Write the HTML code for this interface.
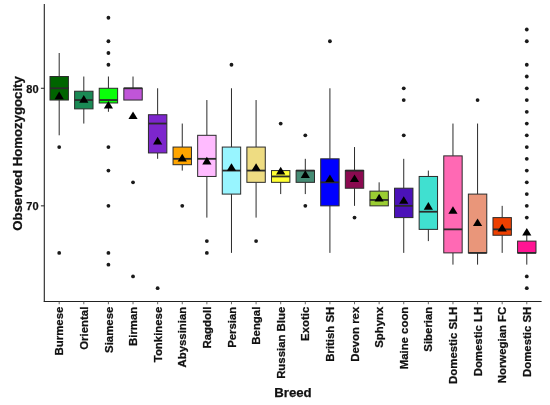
<!DOCTYPE html>
<html lang="en"><head><meta charset="utf-8"><title>Observed Homozygocity by Breed</title>
<style>
html,body{margin:0;padding:0;background:#fff;}
body{width:550px;height:405px;overflow:hidden;}
svg{display:block;}
text{font-family:"Liberation Sans",Arial,Helvetica,sans-serif;font-weight:bold;fill:#111;stroke:#111;stroke-width:0.25px;}
.xl{font-size:11.4px;}
.yl{font-size:11px;}
.ti{font-size:13.2px;}
</style></head><body>
<svg width="550" height="405" viewBox="0 0 550 405">
<rect x="0" y="0" width="550" height="405" fill="#ffffff"/>
<g>
<circle cx="59.20" cy="147.06" r="1.9" fill="#1a1a1a"/>
<circle cx="59.20" cy="252.88" r="1.9" fill="#1a1a1a"/>
<line x1="59.20" y1="53.01" x2="59.20" y2="76.52" stroke="#2b2b2b" stroke-width="1"/>
<line x1="59.20" y1="100.04" x2="59.20" y2="135.31" stroke="#2b2b2b" stroke-width="1"/>
<rect x="50.00" y="76.52" width="18.40" height="23.51" fill="#006400" stroke="#2b2b2b" stroke-width="1"/>
<line x1="50.00" y1="88.28" x2="68.40" y2="88.28" stroke="#2b2b2b" stroke-width="1.8"/>
<polygon points="59.20,91.53 63.80,99.13 54.60,99.13" fill="#000"/>
</g>
<g>
<line x1="83.81" y1="76.52" x2="83.81" y2="91.22" stroke="#2b2b2b" stroke-width="1"/>
<line x1="83.81" y1="108.85" x2="83.81" y2="123.55" stroke="#2b2b2b" stroke-width="1"/>
<rect x="74.61" y="91.22" width="18.40" height="17.64" fill="#1a8a55" stroke="#2b2b2b" stroke-width="1"/>
<line x1="74.61" y1="100.04" x2="93.01" y2="100.04" stroke="#2b2b2b" stroke-width="1.8"/>
<polygon points="83.81,95.06 88.41,102.66 79.21,102.66" fill="#000"/>
</g>
<g>
<circle cx="108.42" cy="17.74" r="1.9" fill="#1a1a1a"/>
<circle cx="108.42" cy="41.25" r="1.9" fill="#1a1a1a"/>
<circle cx="108.42" cy="53.01" r="1.9" fill="#1a1a1a"/>
<circle cx="108.42" cy="64.77" r="1.9" fill="#1a1a1a"/>
<circle cx="108.42" cy="147.06" r="1.9" fill="#1a1a1a"/>
<circle cx="108.42" cy="170.58" r="1.9" fill="#1a1a1a"/>
<circle cx="108.42" cy="205.85" r="1.9" fill="#1a1a1a"/>
<circle cx="108.42" cy="252.88" r="1.9" fill="#1a1a1a"/>
<circle cx="108.42" cy="264.63" r="1.9" fill="#1a1a1a"/>
<line x1="108.42" y1="76.52" x2="108.42" y2="88.28" stroke="#2b2b2b" stroke-width="1"/>
<line x1="108.42" y1="102.98" x2="108.42" y2="111.79" stroke="#2b2b2b" stroke-width="1"/>
<rect x="99.22" y="88.28" width="18.40" height="14.70" fill="#0aff0a" stroke="#2b2b2b" stroke-width="1"/>
<line x1="99.22" y1="100.04" x2="117.62" y2="100.04" stroke="#2b2b2b" stroke-width="1.8"/>
<polygon points="108.42,100.94 113.02,108.54 103.82,108.54" fill="#000"/>
</g>
<g>
<circle cx="133.03" cy="182.34" r="1.9" fill="#1a1a1a"/>
<circle cx="133.03" cy="276.39" r="1.9" fill="#1a1a1a"/>
<line x1="133.03" y1="76.52" x2="133.03" y2="88.28" stroke="#2b2b2b" stroke-width="1"/>
<rect x="123.83" y="88.28" width="18.40" height="11.76" fill="#c055d8" stroke="#2b2b2b" stroke-width="1"/>
<line x1="123.83" y1="88.28" x2="142.23" y2="88.28" stroke="#2b2b2b" stroke-width="1.8"/>
<polygon points="133.03,111.52 137.63,119.12 128.43,119.12" fill="#000"/>
</g>
<g>
<circle cx="157.64" cy="288.15" r="1.9" fill="#1a1a1a"/>
<line x1="157.64" y1="88.28" x2="157.64" y2="114.73" stroke="#2b2b2b" stroke-width="1"/>
<line x1="157.64" y1="152.94" x2="157.64" y2="158.82" stroke="#2b2b2b" stroke-width="1"/>
<rect x="148.44" y="114.73" width="18.40" height="38.21" fill="#7d26cd" stroke="#2b2b2b" stroke-width="1"/>
<line x1="148.44" y1="123.55" x2="166.84" y2="123.55" stroke="#2b2b2b" stroke-width="1.8"/>
<polygon points="157.64,136.80 162.24,144.40 153.04,144.40" fill="#000"/>
</g>
<g>
<circle cx="182.25" cy="205.85" r="1.9" fill="#1a1a1a"/>
<line x1="182.25" y1="123.55" x2="182.25" y2="147.06" stroke="#2b2b2b" stroke-width="1"/>
<line x1="182.25" y1="164.70" x2="182.25" y2="170.58" stroke="#2b2b2b" stroke-width="1"/>
<rect x="173.05" y="147.06" width="18.40" height="17.64" fill="#ffa500" stroke="#2b2b2b" stroke-width="1"/>
<line x1="173.05" y1="158.82" x2="191.45" y2="158.82" stroke="#2b2b2b" stroke-width="1.8"/>
<polygon points="182.25,153.85 186.85,161.45 177.65,161.45" fill="#000"/>
</g>
<g>
<circle cx="206.86" cy="241.12" r="1.9" fill="#1a1a1a"/>
<circle cx="206.86" cy="252.88" r="1.9" fill="#1a1a1a"/>
<line x1="206.86" y1="100.04" x2="206.86" y2="135.31" stroke="#2b2b2b" stroke-width="1"/>
<line x1="206.86" y1="176.46" x2="206.86" y2="217.61" stroke="#2b2b2b" stroke-width="1"/>
<rect x="197.66" y="135.31" width="18.40" height="41.15" fill="#ffbbff" stroke="#2b2b2b" stroke-width="1"/>
<line x1="197.66" y1="158.82" x2="216.06" y2="158.82" stroke="#2b2b2b" stroke-width="1.8"/>
<polygon points="206.86,156.79 211.46,164.39 202.26,164.39" fill="#000"/>
</g>
<g>
<circle cx="231.47" cy="64.77" r="1.9" fill="#1a1a1a"/>
<line x1="231.47" y1="88.28" x2="231.47" y2="147.06" stroke="#2b2b2b" stroke-width="1"/>
<line x1="231.47" y1="194.09" x2="231.47" y2="252.88" stroke="#2b2b2b" stroke-width="1"/>
<rect x="222.27" y="147.06" width="18.40" height="47.03" fill="#98f5ff" stroke="#2b2b2b" stroke-width="1"/>
<line x1="222.27" y1="170.58" x2="240.67" y2="170.58" stroke="#2b2b2b" stroke-width="1.8"/>
<polygon points="231.47,163.25 236.07,170.85 226.87,170.85" fill="#000"/>
</g>
<g>
<circle cx="256.08" cy="241.12" r="1.9" fill="#1a1a1a"/>
<line x1="256.08" y1="100.04" x2="256.08" y2="147.06" stroke="#2b2b2b" stroke-width="1"/>
<line x1="256.08" y1="182.34" x2="256.08" y2="217.61" stroke="#2b2b2b" stroke-width="1"/>
<rect x="246.88" y="147.06" width="18.40" height="35.27" fill="#eedc82" stroke="#2b2b2b" stroke-width="1"/>
<line x1="246.88" y1="170.58" x2="265.28" y2="170.58" stroke="#2b2b2b" stroke-width="1.8"/>
<polygon points="256.08,163.25 260.68,170.85 251.48,170.85" fill="#000"/>
</g>
<g>
<circle cx="280.69" cy="123.55" r="1.9" fill="#1a1a1a"/>
<line x1="280.69" y1="182.34" x2="280.69" y2="194.09" stroke="#2b2b2b" stroke-width="1"/>
<rect x="271.49" y="170.58" width="18.40" height="11.76" fill="#ffff33" stroke="#2b2b2b" stroke-width="1"/>
<line x1="271.49" y1="176.46" x2="289.89" y2="176.46" stroke="#2b2b2b" stroke-width="1.8"/>
<polygon points="280.69,166.78 285.29,174.38 276.09,174.38" fill="#000"/>
</g>
<g>
<circle cx="305.30" cy="135.31" r="1.9" fill="#1a1a1a"/>
<circle cx="305.30" cy="205.85" r="1.9" fill="#1a1a1a"/>
<line x1="305.30" y1="158.82" x2="305.30" y2="170.58" stroke="#2b2b2b" stroke-width="1"/>
<line x1="305.30" y1="182.34" x2="305.30" y2="194.09" stroke="#2b2b2b" stroke-width="1"/>
<rect x="296.10" y="170.58" width="18.40" height="11.76" fill="#458b74" stroke="#2b2b2b" stroke-width="1"/>
<line x1="296.10" y1="170.58" x2="314.50" y2="170.58" stroke="#2b2b2b" stroke-width="1.8"/>
<polygon points="305.30,170.31 309.90,177.91 300.70,177.91" fill="#000"/>
</g>
<g>
<circle cx="329.91" cy="41.25" r="1.9" fill="#1a1a1a"/>
<line x1="329.91" y1="88.28" x2="329.91" y2="158.82" stroke="#2b2b2b" stroke-width="1"/>
<line x1="329.91" y1="205.85" x2="329.91" y2="252.88" stroke="#2b2b2b" stroke-width="1"/>
<rect x="320.71" y="158.82" width="18.40" height="47.03" fill="#0000ff" stroke="#2b2b2b" stroke-width="1"/>
<line x1="320.71" y1="182.34" x2="339.11" y2="182.34" stroke="#2b2b2b" stroke-width="1.8"/>
<polygon points="329.91,174.42 334.51,182.02 325.31,182.02" fill="#000"/>
</g>
<g>
<circle cx="354.52" cy="217.61" r="1.9" fill="#1a1a1a"/>
<line x1="354.52" y1="147.06" x2="354.52" y2="170.58" stroke="#2b2b2b" stroke-width="1"/>
<line x1="354.52" y1="188.21" x2="354.52" y2="205.85" stroke="#2b2b2b" stroke-width="1"/>
<rect x="345.32" y="170.58" width="18.40" height="17.64" fill="#8b0a50" stroke="#2b2b2b" stroke-width="1"/>
<line x1="345.32" y1="170.58" x2="363.72" y2="170.58" stroke="#2b2b2b" stroke-width="1.8"/>
<polygon points="354.52,174.42 359.12,182.02 349.92,182.02" fill="#000"/>
</g>
<g>
<line x1="379.13" y1="182.34" x2="379.13" y2="191.15" stroke="#2b2b2b" stroke-width="1"/>
<rect x="369.93" y="191.15" width="18.40" height="14.70" fill="#9acd32" stroke="#2b2b2b" stroke-width="1"/>
<line x1="369.93" y1="199.97" x2="388.33" y2="199.97" stroke="#2b2b2b" stroke-width="1.8"/>
<polygon points="379.13,193.82 383.73,201.42 374.53,201.42" fill="#000"/>
</g>
<g>
<circle cx="403.74" cy="88.28" r="1.9" fill="#1a1a1a"/>
<circle cx="403.74" cy="100.04" r="1.9" fill="#1a1a1a"/>
<circle cx="403.74" cy="135.31" r="1.9" fill="#1a1a1a"/>
<line x1="403.74" y1="158.82" x2="403.74" y2="188.21" stroke="#2b2b2b" stroke-width="1"/>
<line x1="403.74" y1="217.61" x2="403.74" y2="252.88" stroke="#2b2b2b" stroke-width="1"/>
<rect x="394.54" y="188.21" width="18.40" height="29.39" fill="#4b12b8" stroke="#2b2b2b" stroke-width="1"/>
<line x1="394.54" y1="205.85" x2="412.94" y2="205.85" stroke="#2b2b2b" stroke-width="1.8"/>
<polygon points="403.74,196.17 408.34,203.77 399.14,203.77" fill="#000"/>
</g>
<g>
<line x1="428.35" y1="170.58" x2="428.35" y2="176.46" stroke="#2b2b2b" stroke-width="1"/>
<line x1="428.35" y1="229.36" x2="428.35" y2="241.12" stroke="#2b2b2b" stroke-width="1"/>
<rect x="419.15" y="176.46" width="18.40" height="52.91" fill="#40e0d0" stroke="#2b2b2b" stroke-width="1"/>
<line x1="419.15" y1="211.73" x2="437.55" y2="211.73" stroke="#2b2b2b" stroke-width="1.8"/>
<polygon points="428.35,202.05 432.95,209.65 423.75,209.65" fill="#000"/>
</g>
<g>
<line x1="452.96" y1="123.55" x2="452.96" y2="155.88" stroke="#2b2b2b" stroke-width="1"/>
<line x1="452.96" y1="252.88" x2="452.96" y2="264.63" stroke="#2b2b2b" stroke-width="1"/>
<rect x="443.76" y="155.88" width="18.40" height="97.00" fill="#ff69b4" stroke="#2b2b2b" stroke-width="1"/>
<line x1="443.76" y1="229.36" x2="462.16" y2="229.36" stroke="#2b2b2b" stroke-width="1.8"/>
<polygon points="452.96,206.16 457.56,213.76 448.36,213.76" fill="#000"/>
</g>
<g>
<circle cx="477.57" cy="100.04" r="1.9" fill="#1a1a1a"/>
<line x1="477.57" y1="123.55" x2="477.57" y2="194.09" stroke="#2b2b2b" stroke-width="1"/>
<line x1="477.57" y1="252.88" x2="477.57" y2="264.63" stroke="#2b2b2b" stroke-width="1"/>
<rect x="468.37" y="194.09" width="18.40" height="58.78" fill="#e9967a" stroke="#2b2b2b" stroke-width="1"/>
<line x1="468.37" y1="252.88" x2="486.77" y2="252.88" stroke="#2b2b2b" stroke-width="1.8"/>
<polygon points="477.57,218.51 482.17,226.11 472.97,226.11" fill="#000"/>
</g>
<g>
<line x1="502.18" y1="205.85" x2="502.18" y2="217.61" stroke="#2b2b2b" stroke-width="1"/>
<line x1="502.18" y1="235.24" x2="502.18" y2="252.88" stroke="#2b2b2b" stroke-width="1"/>
<rect x="492.98" y="217.61" width="18.40" height="17.64" fill="#ee4000" stroke="#2b2b2b" stroke-width="1"/>
<line x1="492.98" y1="229.36" x2="511.38" y2="229.36" stroke="#2b2b2b" stroke-width="1.8"/>
<polygon points="502.18,223.80 506.78,231.40 497.58,231.40" fill="#000"/>
</g>
<g>
<circle cx="526.79" cy="29.50" r="1.9" fill="#1a1a1a"/>
<circle cx="526.79" cy="41.25" r="1.9" fill="#1a1a1a"/>
<circle cx="526.79" cy="64.77" r="1.9" fill="#1a1a1a"/>
<circle cx="526.79" cy="76.52" r="1.9" fill="#1a1a1a"/>
<circle cx="526.79" cy="88.28" r="1.9" fill="#1a1a1a"/>
<circle cx="526.79" cy="100.04" r="1.9" fill="#1a1a1a"/>
<circle cx="526.79" cy="111.79" r="1.9" fill="#1a1a1a"/>
<circle cx="526.79" cy="123.55" r="1.9" fill="#1a1a1a"/>
<circle cx="526.79" cy="135.31" r="1.9" fill="#1a1a1a"/>
<circle cx="526.79" cy="147.06" r="1.9" fill="#1a1a1a"/>
<circle cx="526.79" cy="158.82" r="1.9" fill="#1a1a1a"/>
<circle cx="526.79" cy="170.58" r="1.9" fill="#1a1a1a"/>
<circle cx="526.79" cy="182.34" r="1.9" fill="#1a1a1a"/>
<circle cx="526.79" cy="194.09" r="1.9" fill="#1a1a1a"/>
<circle cx="526.79" cy="205.85" r="1.9" fill="#1a1a1a"/>
<circle cx="526.79" cy="217.61" r="1.9" fill="#1a1a1a"/>
<circle cx="526.79" cy="276.39" r="1.9" fill="#1a1a1a"/>
<circle cx="526.79" cy="288.15" r="1.9" fill="#1a1a1a"/>
<line x1="526.79" y1="229.36" x2="526.79" y2="241.12" stroke="#2b2b2b" stroke-width="1"/>
<line x1="526.79" y1="252.88" x2="526.79" y2="264.63" stroke="#2b2b2b" stroke-width="1"/>
<rect x="517.59" y="241.12" width="18.40" height="11.76" fill="#ff1493" stroke="#2b2b2b" stroke-width="1"/>
<line x1="517.59" y1="252.88" x2="535.99" y2="252.88" stroke="#2b2b2b" stroke-width="1.8"/>
<polygon points="526.79,227.92 531.39,235.52 522.19,235.52" fill="#000"/>
</g>
<line x1="44.3" y1="4" x2="44.3" y2="301.95" stroke="#222" stroke-width="1.1"/>
<line x1="43.8" y1="301.45" x2="541.6" y2="301.45" stroke="#222" stroke-width="1.1"/>
<line x1="40.9" y1="88.28" x2="44.3" y2="88.28" stroke="#222" stroke-width="1"/>
<text class="yl" x="38.6" y="92.88" text-anchor="end">80</text>
<line x1="40.9" y1="205.85" x2="44.3" y2="205.85" stroke="#222" stroke-width="1"/>
<text class="yl" x="38.6" y="210.45" text-anchor="end">70</text>
<line x1="59.20" y1="301.45" x2="59.20" y2="304.25" stroke="#444" stroke-width="0.8"/>
<text class="xl" transform="translate(63.30,306.7) rotate(-90)" text-anchor="end">Burmese</text>
<line x1="83.81" y1="301.45" x2="83.81" y2="304.25" stroke="#444" stroke-width="0.8"/>
<text class="xl" transform="translate(87.91,306.7) rotate(-90)" text-anchor="end">Oriental</text>
<line x1="108.42" y1="301.45" x2="108.42" y2="304.25" stroke="#444" stroke-width="0.8"/>
<text class="xl" transform="translate(112.52,306.7) rotate(-90)" text-anchor="end">Siamese</text>
<line x1="133.03" y1="301.45" x2="133.03" y2="304.25" stroke="#444" stroke-width="0.8"/>
<text class="xl" transform="translate(137.13,306.7) rotate(-90)" text-anchor="end">Birman</text>
<line x1="157.64" y1="301.45" x2="157.64" y2="304.25" stroke="#444" stroke-width="0.8"/>
<text class="xl" transform="translate(161.74,306.7) rotate(-90)" text-anchor="end">Tonkinese</text>
<line x1="182.25" y1="301.45" x2="182.25" y2="304.25" stroke="#444" stroke-width="0.8"/>
<text class="xl" transform="translate(186.35,306.7) rotate(-90)" text-anchor="end">Abyssinian</text>
<line x1="206.86" y1="301.45" x2="206.86" y2="304.25" stroke="#444" stroke-width="0.8"/>
<text class="xl" transform="translate(210.96,306.7) rotate(-90)" text-anchor="end">Ragdoll</text>
<line x1="231.47" y1="301.45" x2="231.47" y2="304.25" stroke="#444" stroke-width="0.8"/>
<text class="xl" transform="translate(235.57,306.7) rotate(-90)" text-anchor="end">Persian</text>
<line x1="256.08" y1="301.45" x2="256.08" y2="304.25" stroke="#444" stroke-width="0.8"/>
<text class="xl" transform="translate(260.18,306.7) rotate(-90)" text-anchor="end">Bengal</text>
<line x1="280.69" y1="301.45" x2="280.69" y2="304.25" stroke="#444" stroke-width="0.8"/>
<text class="xl" transform="translate(284.79,306.7) rotate(-90)" text-anchor="end">Russian Blue</text>
<line x1="305.30" y1="301.45" x2="305.30" y2="304.25" stroke="#444" stroke-width="0.8"/>
<text class="xl" transform="translate(309.40,306.7) rotate(-90)" text-anchor="end">Exotic</text>
<line x1="329.91" y1="301.45" x2="329.91" y2="304.25" stroke="#444" stroke-width="0.8"/>
<text class="xl" transform="translate(334.01,306.7) rotate(-90)" text-anchor="end">British SH</text>
<line x1="354.52" y1="301.45" x2="354.52" y2="304.25" stroke="#444" stroke-width="0.8"/>
<text class="xl" transform="translate(358.62,306.7) rotate(-90)" text-anchor="end">Devon rex</text>
<line x1="379.13" y1="301.45" x2="379.13" y2="304.25" stroke="#444" stroke-width="0.8"/>
<text class="xl" transform="translate(383.23,306.7) rotate(-90)" text-anchor="end">Sphynx</text>
<line x1="403.74" y1="301.45" x2="403.74" y2="304.25" stroke="#444" stroke-width="0.8"/>
<text class="xl" transform="translate(407.84,306.7) rotate(-90)" text-anchor="end">Maine coon</text>
<line x1="428.35" y1="301.45" x2="428.35" y2="304.25" stroke="#444" stroke-width="0.8"/>
<text class="xl" transform="translate(432.45,306.7) rotate(-90)" text-anchor="end">Siberian</text>
<line x1="452.96" y1="301.45" x2="452.96" y2="304.25" stroke="#444" stroke-width="0.8"/>
<text class="xl" transform="translate(457.06,306.7) rotate(-90)" text-anchor="end">Domestic SLH</text>
<line x1="477.57" y1="301.45" x2="477.57" y2="304.25" stroke="#444" stroke-width="0.8"/>
<text class="xl" transform="translate(481.67,306.7) rotate(-90)" text-anchor="end">Domestic LH</text>
<line x1="502.18" y1="301.45" x2="502.18" y2="304.25" stroke="#444" stroke-width="0.8"/>
<text class="xl" transform="translate(506.28,306.7) rotate(-90)" text-anchor="end">Norwegian FC</text>
<line x1="526.79" y1="301.45" x2="526.79" y2="304.25" stroke="#444" stroke-width="0.8"/>
<text class="xl" transform="translate(530.89,306.7) rotate(-90)" text-anchor="end">Domestic SH</text>
<text class="ti" transform="translate(22.2,153.5) rotate(-90)" text-anchor="middle">Observed Homozygocity</text>
<text class="ti" x="293" y="397.2" text-anchor="middle">Breed</text>
</svg></body></html>
